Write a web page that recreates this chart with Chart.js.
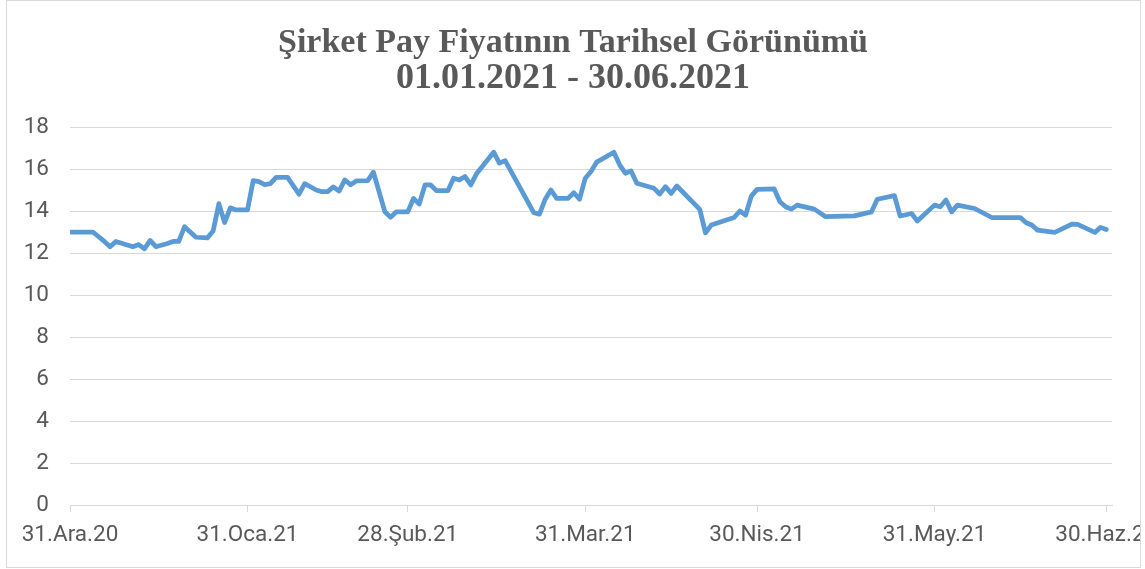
<!DOCTYPE html>
<html>
<head>
<meta charset="utf-8">
<script src="https://cdn.jsdelivr.net/npm/chart.js@4"></script>
<style>
  html, body { margin: 0; padding: 0; background: #fff; overflow: hidden; }
  #frame { position: absolute; left: 6px; top: 0; width: 1133px; height: 566px; border: 1px solid #d9d9d9; overflow: hidden; background: #fff; }
  #chart { display: block; }
</style>
</head>
<body>
<div id="frame"><canvas id="chart" width="1185" height="566"></canvas></div>
<script>
const title_text = 'Şirket Pay Fiyatının Tarihsel Görünümü'
const subtitle_text = '01.01.2021 - 30.06.2021'

// days counted from 31.12.2020, prices
const price_days = [
    0, 4, 6, 7, 8, 11, 12, 13, 14, 15, 17, 18, 19, 20, 22, 24, 25, 26, 27, 28,
    29, 31, 32, 33, 34, 35, 36, 38, 40, 41, 43, 44, 45, 46, 47, 48, 49, 50, 52, 53,
    55, 56, 57, 59, 60, 61, 62, 63, 64, 66, 67, 68, 69, 70, 71, 74, 75, 76, 81, 82,
    83, 84, 85, 87, 88, 89, 90, 91, 92, 95, 96, 97, 98, 99, 102, 103, 104, 105, 106, 110,
    111, 112, 116, 117, 118, 119, 120, 123, 124, 125, 126, 127, 130, 132, 137, 140, 141, 144, 145, 147,
    148, 151, 152, 153, 154, 155, 158, 161, 166, 167, 168, 169, 172, 175, 176, 179, 180, 181
]
const price_values = [
    13.0, 13.0, 12.55, 12.3, 12.55, 12.3, 12.4, 12.2, 12.6, 12.3, 12.45, 12.55, 12.55, 13.25, 12.75, 12.72, 13.05, 14.35, 13.45, 14.15,
    14.05, 14.05, 15.45, 15.4, 15.25, 15.3, 15.6, 15.6, 14.8, 15.3, 15.0, 14.92, 14.92, 15.15, 14.95, 15.48, 15.25, 15.43, 15.45, 15.85,
    13.96, 13.7, 13.96, 13.96, 14.6, 14.33, 15.24, 15.24, 14.97, 14.97, 15.56, 15.48, 15.64, 15.24, 15.77, 16.8, 16.28, 16.4, 13.92, 13.85,
    14.56, 15.0, 14.6, 14.6, 14.87, 14.56, 15.56, 15.88, 16.33, 16.8, 16.2, 15.8, 15.91, 15.32, 15.08, 14.81, 15.16, 14.84, 15.19, 14.08,
    12.96, 13.33, 13.69, 14.0, 13.8, 14.71, 15.03, 15.05, 14.44, 14.2, 14.09, 14.28, 14.09, 13.73, 13.77, 13.96, 14.56, 14.73, 13.76, 13.88,
    13.52, 14.28, 14.2, 14.52, 13.96, 14.28, 14.12, 13.69, 13.69, 13.44, 13.33, 13.09, 12.98, 13.37, 13.36, 12.98, 13.22, 13.12
]

const tick_days = [0, 31, 59, 90, 120, 151, 181]
const tick_labels = ['31.Ara.20', '31.Oca.21', '28.Şub.21', '31.Mar.21', '30.Nis.21', '31.May.21', '30.Haz.21']
const axis_last_day = 182

const text_color = '#595959'
const grid_color = '#d9d9d9'
const label_font = { family: 'Roboto', size: 22.5 }

const points = price_days.map((day, i) => ({ x: day, y: price_values[i] }))

new Chart(document.getElementById('chart'), {
    type: 'line',
    data: {
        datasets: [{
            data: points,
            borderColor: '#5b9bd5',
            borderWidth: 4.75,
            borderJoinStyle: 'round',
            borderCapStyle: 'round',
            pointRadius: 0,
            tension: 0,
            fill: false
        }]
    },
    options: {
        responsive: false,
        animation: false,
        layout: { padding: { left: 0, right: 53, top: 0, bottom: 0 } },
        plugins: {
            legend: { display: false },
            tooltip: { enabled: false },
            title: {
                display: true,
                text: title_text,
                color: text_color,
                font: { family: 'Liberation Serif', size: 34, weight: 'bold', lineHeight: 1 },
                padding: { top: 25, bottom: 0 }
            },
            subtitle: {
                display: true,
                text: subtitle_text,
                color: text_color,
                font: { family: 'Liberation Serif', size: 36, weight: 'bold', lineHeight: 1 },
                padding: { top: 1, bottom: 30 }
            }
        },
        scales: {
            x: {
                type: 'linear',
                min: 0,
                max: axis_last_day,
                afterBuildTicks: scale => {
                    scale.ticks = tick_days.map(day => ({ value: day }))
                },
                afterFit: scale => {
                    scale.height = 62
                },
                ticks: {
                    autoSkip: false,
                    maxRotation: 0,
                    color: text_color,
                    font: label_font,
                    padding: 10,
                    callback: (value, index) => tick_labels[index]
                },
                grid: { drawOnChartArea: false, tickLength: 7, color: grid_color },
                border: { color: grid_color }
            },
            y: {
                min: 0,
                max: 18,
                afterFit: scale => {
                    scale.width = 63
                },
                ticks: { stepSize: 2, color: text_color, font: label_font, padding: 21 },
                grid: { color: grid_color, drawTicks: false },
                border: { display: false }
            },
            // empty right-hand strip so the title sits centred over the whole frame
            spacer: {
                position: 'right',
                afterFit: scale => {
                    scale.width = 27
                },
                ticks: { display: false },
                grid: { display: false },
                border: { display: false }
            }
        }
    }
})
</script>
</body>
</html>
